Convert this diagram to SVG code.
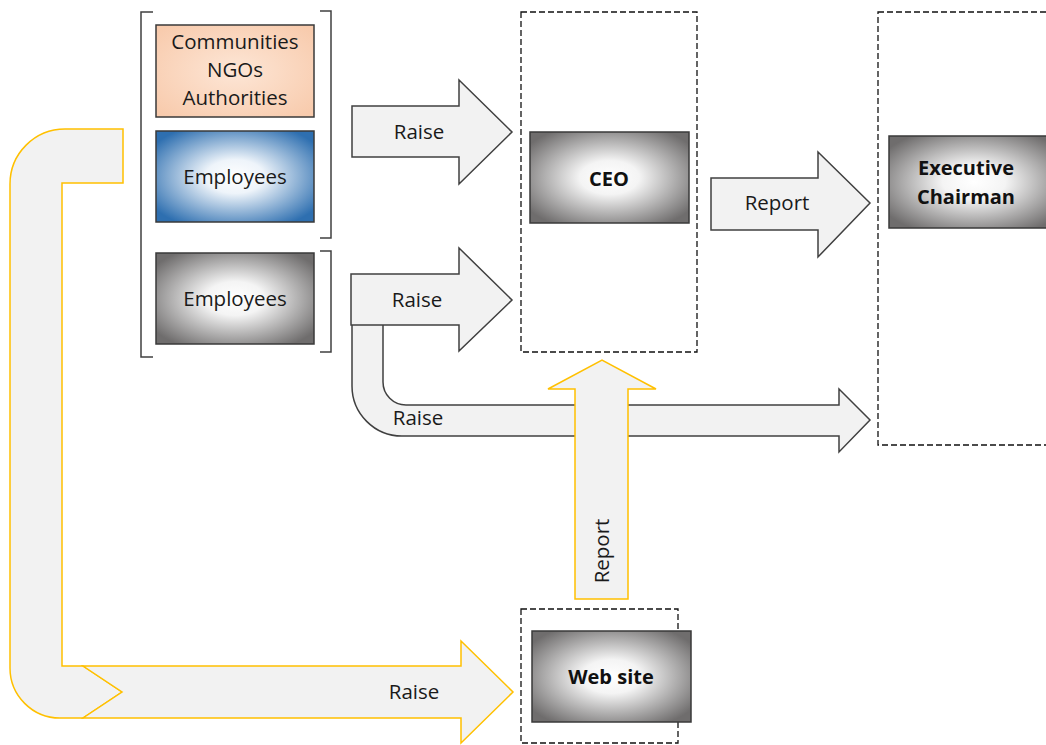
<svg xmlns="http://www.w3.org/2000/svg" width="1046" height="745" viewBox="0 0 1046 745">
<style>
  .lbl{font-family:"Open Sans","Liberation Sans",sans-serif;font-size:20.5px;fill:#1a1a1a;text-anchor:middle}
  .bold{font-weight:bold;font-size:20px;fill:#111}
  .box{stroke:#3a3a3a;stroke-width:1.5}
  .dash{fill:none;stroke:#111;stroke-width:1.3;stroke-dasharray:6,3}
  .brk{fill:none;stroke:#404040;stroke-width:1.5}
  .garr{fill:#f2f2f2;stroke:#404040;stroke-width:1.5;stroke-linejoin:miter}
  .yarr{fill:#f2f2f2;stroke:#ffc000;stroke-width:1.5;stroke-linejoin:miter}
</style>
<defs>
  <radialGradient id="gGray" cx="50%" cy="50%" r="62%">
    <stop offset="0" stop-color="#ffffff"/>
    <stop offset="0.3" stop-color="#f4f4f4"/>
    <stop offset="1" stop-color="#6f6d6d"/>
  </radialGradient>
  <radialGradient id="gBlue" cx="50%" cy="50%" r="62%">
    <stop offset="0" stop-color="#ffffff"/>
    <stop offset="0.3" stop-color="#eef4fa"/>
    <stop offset="1" stop-color="#2e6fb0"/>
  </radialGradient>
  <radialGradient id="gPeach" cx="50%" cy="50%" r="65%">
    <stop offset="0" stop-color="#fde6d6"/>
    <stop offset="1" stop-color="#f8cbad"/>
  </radialGradient>
</defs>

<g id="containers">
  <rect id="ceo-frame" class="dash" x="521" y="12" width="176" height="340"/>
  <rect id="chairman-frame" class="dash" x="878" y="12" width="180" height="433"/>
  <rect id="website-frame" class="dash" x="521" y="609" width="157" height="134"/>
  <path id="bracket-left" class="brk" d="M153,12 L141,12 L141,357 L153,357"/>
  <path id="bracket-right-1" class="brk" d="M320,11 L331,11 L331,238 L320,238"/>
  <path id="bracket-right-2" class="brk" d="M320,251 L331,251 L331,352 L320,352"/>
</g>

<g id="connectors">
  <!-- yellow bent Raise arrow from stakeholders to web site -->
  <path class="yarr" d="M123,129 L65,129 A55,55 0 0 0 10,184 L10,668 A50,50 0 0 0 60,718 L83,718 L122,692 L83,666 L62,666 L62,183 L123,183 Z"/>
  <path class="yarr" d="M83,666 L461,666 L461,641 L513,692 L461,743 L461,718 L83,718 L122,692 Z"/>
  <text class="lbl" x="414" y="699">Raise</text>

  <!-- gray bent Raise arrow to Executive Chairman -->
  <path class="garr" d="M352,325 L352,386 A50,50 0 0 0 402,436 L839,436 L839,452 L870,420 L839,389 L839,405 L406,405 A23,23 0 0 1 383,382 L383,325"/>
  <text class="lbl" x="418" y="425">Raise</text>

  <!-- Raise arrow 1 -->
  <path class="garr" d="M352,106 L459,106 L459,80 L512,132 L459,184 L459,157 L352,157 Z"/>
  <text class="lbl" x="419" y="139">Raise</text>

  <!-- Raise arrow 2 -->
  <path class="garr" d="M351,274 L459,274 L459,248 L512,300 L459,351 L459,325 L351,325 Z"/>
  <text class="lbl" x="417" y="307">Raise</text>

  <!-- Report arrow CEO -> Chairman -->
  <path class="garr" d="M711,178 L818,178 L818,152 L870,203 L818,257 L818,230 L711,230 Z"/>
  <text class="lbl" x="777" y="210">Report</text>

  <!-- yellow Report arrow Web site -> CEO -->
  <path class="yarr" d="M575,599 L575,389 L548,389 L602,360 L656,389 L628,389 L628,599 Z"/>
  <text class="lbl" transform="translate(609,551) rotate(-90)" x="0" y="0">Report</text>
</g>

<g id="node-communities">
  <rect class="box" x="156" y="25" width="158" height="92" fill="url(#gPeach)"/>
  <text class="lbl" x="235" y="49">Communities</text>
  <text class="lbl" x="235" y="77">NGOs</text>
  <text class="lbl" x="235" y="105">Authorities</text>
</g>
<g id="node-employees-1">
  <rect class="box" x="156" y="131" width="158" height="91" fill="url(#gBlue)"/>
  <text class="lbl" x="235" y="184">Employees</text>
</g>
<g id="node-employees-2">
  <rect class="box" x="156" y="253" width="158" height="91" fill="url(#gGray)"/>
  <text class="lbl" x="235" y="306">Employees</text>
</g>
<g id="node-ceo">
  <rect class="box" x="530" y="132" width="159" height="91" fill="url(#gGray)"/>
  <text class="lbl bold" x="609" y="186">CEO</text>
</g>
<g id="node-chairman">
  <rect class="box" x="889" y="136" width="170" height="92" fill="url(#gGray)"/>
  <text class="lbl bold" x="966" y="175">Executive</text>
  <text class="lbl bold" x="966" y="204">Chairman</text>
</g>
<g id="node-website">
  <rect class="box" x="532" y="631" width="159" height="91" fill="url(#gGray)"/>
  <text class="lbl bold" x="611" y="684">Web site</text>
</g>
</svg>
